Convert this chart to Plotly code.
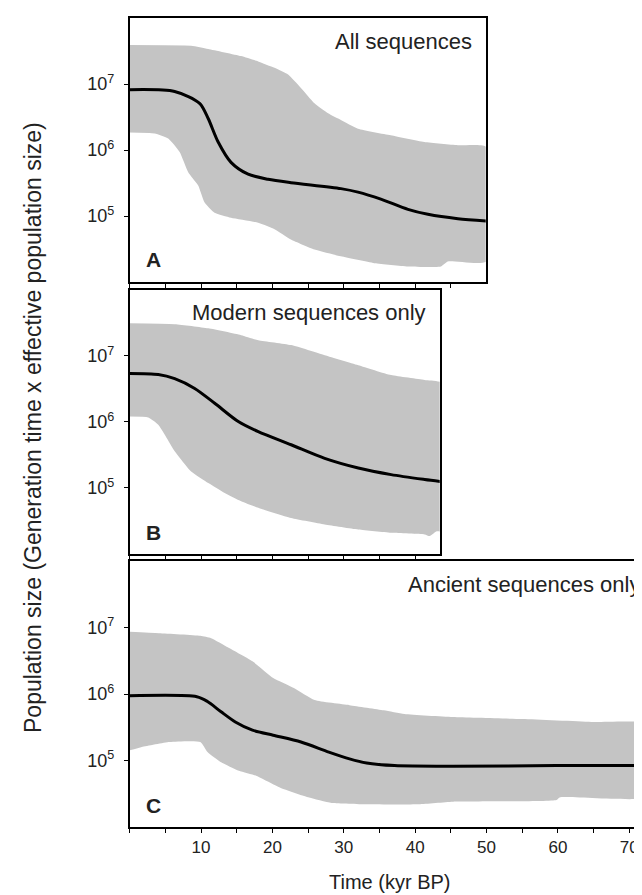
import plotly.graph_objects as go

# ---------------- data (kyr BP, population size) ----------------
# Panel A: all sequences
a_mid_t = [0, 6.3, 9.8, 11, 12.4, 14.2, 16.6, 19.4, 22.6, 29.6, 32, 35.2, 39, 41.8, 46, 50]
a_mid_n = [8.2e6, 7.7e6, 5.1e6, 3.0e6, 1.32e6, 6.5e5, 4.3e5, 3.6e5, 3.2e5, 2.6e5, 2.3e5, 1.8e5, 1.26e5, 1.06e5, 9.1e4, 8.4e4]
a_hi_t = [0, 8.6, 11, 15.6, 18, 20.3, 22.2, 24, 25.9, 27.8, 29.6, 32, 36.6, 41.3, 46, 50]
a_hi_n = [3.9e7, 3.8e7, 3.4e7, 2.65e7, 2.2e7, 1.76e7, 1.39e7, 8.7e6, 5.1e6, 3.6e6, 2.85e6, 2.1e6, 1.67e6, 1.32e6, 1.18e6, 1.11e6]
a_lo_t = [0, 3.5, 5.4, 7, 8.2, 9.6, 10.5, 11.9, 14.2, 18, 20.3, 22.6, 25.9, 29.6, 34.3, 39, 43.6, 44.6, 50]
a_lo_n = [1.84e6, 1.78e6, 1.49e6, 9.3e5, 4.6e5, 2.9e5, 1.6e5, 1.12e5, 9.4e4, 7.9e4, 6.3e4, 4.4e4, 3.1e4, 2.45e4, 1.93e4, 1.72e4, 1.72e4, 2.05e4, 2.05e4]

# Panel B: modern sequences only
b_mid_t = [0, 4, 6.3, 9.1, 11.9, 15.2, 18, 22.6, 27.3, 32, 36.6, 41.3, 44]
b_mid_n = [5.4e6, 5.2e6, 4.5e6, 3.2e6, 1.91e6, 1.01e6, 7.1e5, 4.5e5, 2.8e5, 2.0e5, 1.59e5, 1.34e5, 1.23e5]
b_hi_t = [0, 6.3, 11, 15.6, 18, 22.6, 27.3, 32, 36.6, 41.3, 44]
b_hi_n = [3.1e7, 3.0e7, 2.6e7, 2.05e7, 1.72e7, 1.45e7, 1.02e7, 7.2e6, 5.1e6, 4.3e6, 3.8e6]
b_lo_t = [0, 2.6, 4, 6.3, 8.6, 11, 13.3, 15.6, 18, 22.6, 27.3, 32, 36.6, 41.3, 42, 43, 44]
b_lo_n = [1.2e6, 1.16e6, 9.0e5, 3.6e5, 1.78e5, 1.19e5, 8.4e4, 6.3e4, 5.0e4, 3.5e4, 2.8e4, 2.35e4, 2.1e4, 1.98e4, 1.87e4, 2.2e4, 2.2e4]

# Panel C: ancient sequences only
c_mid_t = [0, 9.4, 10.9, 12.8, 14.8, 17.2, 20.1, 24, 27.9, 30.8, 33.2, 37.1, 45.3, 59.8, 74]
c_mid_n = [9.4e5, 9.1e5, 7.7e5, 5.4e5, 3.8e5, 2.86e5, 2.4e5, 1.9e5, 1.34e5, 1.06e5, 9.2e4, 8.4e4, 8.2e4, 8.4e4, 8.4e4]
c_hi_t = [0, 4.1, 9.9, 11.4, 13.8, 17.2, 20.1, 23, 25.9, 30.8, 35.6, 38.5, 45.3, 55, 64.7, 74]
c_hi_n = [8.6e6, 8.2e6, 7.5e6, 6.9e6, 5.0e6, 3.1e6, 1.74e6, 1.23e6, 8.1e5, 6.8e5, 5.7e5, 5.0e5, 4.5e5, 4.2e5, 3.8e5, 3.4e5]
c_lo_t = [0, 1.7, 5.6, 9.9, 10.9, 12.8, 15.3, 17.7, 21.1, 25, 28.3, 33.2, 40.5, 45.3, 59.8, 60.3, 74]
c_lo_n = [1.42e5, 1.6e5, 1.9e5, 1.9e5, 1.34e5, 9.4e4, 7.0e4, 5.9e4, 3.9e4, 2.8e4, 2.3e4, 2.2e4, 2.2e4, 2.4e4, 2.55e4, 2.8e4, 2.95e4]

panel_titles = ["All sequences", "Modern sequences only", "Ancient sequences only"]
panel_letters = ["A", "B", "C"]
x_tick_vals = [10, 20, 30, 40, 50, 60, 70]
x_tick_text = ["10", "20", "30", "40", "50", "60", "70"]
y_tick_vals = [1e5, 1e6, 1e7]
y_tick_text = ["10<sup>5</sup>", "10<sup>6</sup>", "10<sup>7</sup>"]

# ---------------- figure ----------------
W, H = 642, 895
FONT = "Liberation Sans, Arial, Helvetica, sans-serif"
BAND = "rgb(196,196,196)"

def px(p):
    return p / W

def py(p):
    return 1 - p / H

left = 121.7
panels = [
    dict(right=477.7, top=10.0, bottom=274.0, xmax=49.9),
    dict(right=431.7, top=281.7, bottom=546.0, xmax=43.4),
    dict(right=642.0, top=553.0, bottom=819.0, xmax=72.9),
]
series = [
    (a_mid_t, a_mid_n, a_hi_t, a_hi_n, a_lo_t, a_lo_n),
    (b_mid_t, b_mid_n, b_hi_t, b_hi_n, b_lo_t, b_lo_n),
    (c_mid_t, c_mid_n, c_hi_t, c_hi_n, c_lo_t, c_lo_n),
]

fig = go.Figure()
annotations = []
for i, (pan, s) in enumerate(zip(panels, series)):
    mt, mn, ht, hn, lt, ln = s
    xa = "x" if i == 0 else f"x{i+1}"
    ya = "y" if i == 0 else f"y{i+1}"
    fig.add_trace(go.Scatter(
        x=list(ht) + list(lt)[::-1], y=list(hn) + list(ln)[::-1],
        fill="toself", fillcolor=BAND, mode="lines",
        line=dict(width=0, color=BAND, shape="spline", smoothing=0.5),
        xaxis=xa, yaxis=ya, hoverinfo="skip", showlegend=False))
    fig.add_trace(go.Scatter(
        x=mt, y=mn, mode="lines",
        line=dict(color="black", width=3, shape="spline", smoothing=0.8),
        xaxis=xa, yaxis=ya, showlegend=False))

    xkey = "xaxis" if i == 0 else f"xaxis{i+1}"
    ykey = "yaxis" if i == 0 else f"yaxis{i+1}"
    last = i == 2
    fig.layout[xkey] = dict(
        domain=[px(left), px(pan["right"])], anchor=ya, range=[0, pan["xmax"]],
        showline=True, linecolor="black", linewidth=1.5, mirror=True,
        ticks="outside", ticklen=4, tickwidth=1, tickcolor="black",
        tickvals=x_tick_vals, ticktext=x_tick_text,
        minor=dict(tick0=0, dtick=5, ticks="outside", ticklen=4, tickwidth=1, tickcolor="black"),
        showticklabels=last, showgrid=False, zeroline=False,
        tickfont=dict(family=FONT, size=17, color="#222"),
    )
    fig.layout[ykey] = dict(
        domain=[py(pan["bottom"]), py(pan["top"])], anchor=xa, type="log", range=[4, 8],
        showline=True, linecolor="black", linewidth=1.5, mirror=(not last),
        ticks="outside", ticklen=4, tickwidth=1, tickcolor="black",
        tickvals=y_tick_vals, ticktext=y_tick_text, showgrid=False, zeroline=False,
        ticklabelstandoff=6,
        tickfont=dict(family=FONT, size=18, color="#222"),
    )
    # panel title (top right)
    annotations.append(dict(
        x=px(pan["right"] - 12 if i < 2 else 634), y=py(pan["top"] + 23),
        xref="paper", yref="paper", text=panel_titles[i], showarrow=False,
        xanchor="right", yanchor="middle",
        font=dict(family=FONT, size=22, color="#222")))
    # panel letter (bottom left)
    annotations.append(dict(
        x=px(136), y=py(pan["bottom"] - 22),
        xref="paper", yref="paper", text=f"<b>{panel_letters[i]}</b>", showarrow=False,
        xanchor="left", yanchor="middle",
        font=dict(family=FONT, size=21, color="#222")))

annotations.append(dict(
    x=px(382), y=py(874), xref="paper", yref="paper", text="Time (kyr BP)",
    showarrow=False, xanchor="center", yanchor="middle",
    font=dict(family=FONT, size=20, color="#222")))
annotations.append(dict(
    x=px(25), y=py(420), xref="paper", yref="paper",
    text="Population size (Generation time x effective population size)",
    showarrow=False, xanchor="center", yanchor="middle", textangle=-90,
    font=dict(family=FONT, size=23, color="#222")))

fig.update_layout(
    width=W, height=H, autosize=False,
    margin=dict(l=0, r=0, t=0, b=0),
    paper_bgcolor="white", plot_bgcolor="white",
    annotations=annotations, showlegend=False,
)

fig.write_html("out.html")
